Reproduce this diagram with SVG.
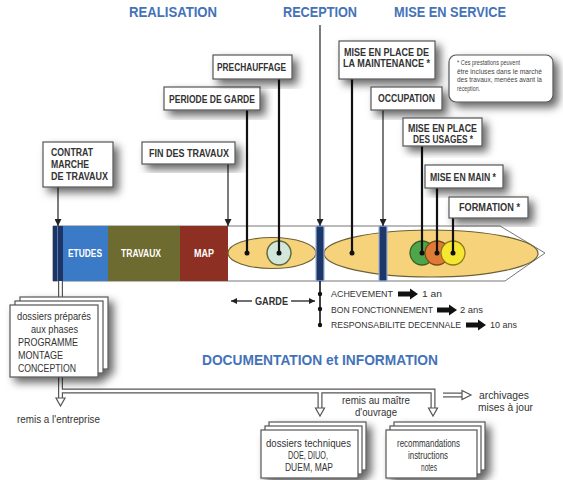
<svg xmlns="http://www.w3.org/2000/svg" width="563" height="480" viewBox="0 0 563 480">
<defs>
<style>
.hd{font-family:"Liberation Sans",Arial,sans-serif;font-weight:bold;font-size:14px;fill:#4472b9}
.bx{fill:#fff;stroke:#555;stroke-width:1.2}
.lb{font-family:"Liberation Sans",Arial,sans-serif;font-weight:bold;font-size:10.5px;fill:#333}
.tx{font-family:"Liberation Sans",Arial,sans-serif;font-size:11px;fill:#333}
.gt{font-family:"Liberation Sans",Arial,sans-serif;font-size:9.5px;fill:#333}
.wt{font-family:"Liberation Sans",Arial,sans-serif;font-weight:bold;font-size:10px;fill:#fff}
.nt{font-family:"Liberation Sans",Arial,sans-serif;font-size:6.5px;fill:#444}
.thin{stroke:#444;stroke-width:1.4;fill:none}
.thick{stroke:#111;stroke-width:2.2;fill:none}
.dot{fill:#111}
.strp{fill:#1d3868;stroke:#9ab0d8;stroke-width:1.2}
.ell{fill:#f6d37b;stroke:#6e6035;stroke-width:1.2}
.pipeo{stroke:#555;stroke-width:5;fill:none}
.pipei{stroke:#fff;stroke-width:2.6;fill:none}
.hollow{fill:#fff;stroke:#555;stroke-width:1.2}
</style>
<filter id="sh" x="-30%" y="-30%" width="170%" height="170%">
<feDropShadow dx="5" dy="5" stdDeviation="4" flood-color="#000" flood-opacity="0.6"/>
</filter>
<marker id="ah" viewBox="0 0 10 10" refX="10" refY="5" markerWidth="7" markerHeight="7" markerUnits="userSpaceOnUse" orient="auto">
<path d="M0,0 L10,5 L0,10 z" fill="#222"/>
</marker>
<marker id="ah2" viewBox="0 0 10 10" refX="10" refY="5" markerWidth="9" markerHeight="6" markerUnits="userSpaceOnUse" orient="auto">
<path d="M0,0 L10,5 L0,10 z" fill="#222"/>
</marker>
<path id="blk" d="M0,-2.5 H12 V-5.5 L20,0 L12,5.5 V2.5 H0 Z" fill="#111"/>
</defs>
<rect width="563" height="480" fill="#fff"/>

<!-- headings -->
<g id="headings">
<text class="hd" x="129" y="17" textLength="88" lengthAdjust="spacingAndGlyphs">REALISATION</text>
<text class="hd" x="283" y="17" textLength="74" lengthAdjust="spacingAndGlyphs">RECEPTION</text>
<text class="hd" x="394" y="17" textLength="112" lengthAdjust="spacingAndGlyphs">MISE EN SERVICE</text>
<text class="hd" x="202" y="365" textLength="236" lengthAdjust="spacingAndGlyphs">DOCUMENTATION et INFORMATION</text>
</g>

<!-- timeline bar -->
<g id="timeline">
<polygon points="53,226 500,226 545,253 505,281 53,281" fill="#fff" stroke="#777" stroke-width="1"/>
<rect x="53" y="226" width="10" height="55" fill="#1c3566"/>
<line x1="57.5" y1="226" x2="57.5" y2="281" stroke="#5d7cb3" stroke-width="1"/>
<rect x="63" y="226" width="45" height="55" fill="#3a7ac6"/>
<rect x="108" y="226" width="72" height="55" fill="#6d6b2f"/>
<rect x="180" y="226" width="48" height="55" fill="#8e2f24"/>
<text class="wt" x="68" y="257" textLength="34" lengthAdjust="spacingAndGlyphs">ETUDES</text>
<text class="wt" x="121" y="257" textLength="40" lengthAdjust="spacingAndGlyphs">TRAVAUX</text>
<text class="wt" x="194" y="257" textLength="20" lengthAdjust="spacingAndGlyphs">MAP</text>
<ellipse class="ell" cx="272" cy="253" rx="44" ry="15.5"/>
<circle cx="279" cy="253" r="12" fill="#d2e6dc" stroke="#5e6a3a" stroke-width="1.5"/>
<ellipse class="ell" cx="431" cy="253.5" rx="107" ry="23.5"/>
<circle cx="422" cy="253" r="12" fill="#4ea64b" stroke="#3d5f2a" stroke-width="1.3"/>
<circle cx="437" cy="253" r="12" fill="#e07b35" stroke="#7a4a1f" stroke-width="1.3"/>
<circle cx="453" cy="253" r="12" fill="#f4e631" stroke="#8a7a1a" stroke-width="1.3"/>
<rect class="strp" x="316" y="226" width="8" height="55"/>
<rect class="strp" x="379" y="226" width="8" height="55"/>
</g>

<!-- connectors -->
<g id="connectors">
<line class="thin" x1="58" y1="187" x2="58" y2="226" marker-end="url(#ah)"/>
<line class="thin" x1="228" y1="164" x2="228" y2="226" marker-end="url(#ah)"/>
<line class="thin" x1="320" y1="25" x2="320" y2="226" stroke="#777" marker-end="url(#ah)"/>
<line class="thin" x1="383" y1="110" x2="383" y2="226" marker-end="url(#ah)"/>
<line class="thick" x1="247" y1="110" x2="247" y2="253"/>
<line class="thick" x1="279" y1="79" x2="279" y2="253"/>
<line class="thick" x1="352" y1="79" x2="352" y2="253"/>
<line class="thick" x1="422" y1="146" x2="422" y2="253"/>
<line class="thick" x1="437" y1="188" x2="437" y2="253"/>
<line class="thick" x1="453" y1="218" x2="453" y2="253" stroke-width="3"/>
<circle class="dot" cx="247" cy="253" r="2.5"/>
<circle class="dot" cx="279" cy="253" r="2.5"/>
<circle class="dot" cx="352" cy="253" r="2.5"/>
<circle class="dot" cx="422" cy="253" r="2.5"/>
<circle class="dot" cx="437" cy="253" r="2.5"/>
<circle class="dot" cx="453" cy="253" r="2.5"/>
<!-- garantees -->
<line x1="320" y1="281" x2="320" y2="325" stroke="#111" stroke-width="1.6"/>
<circle class="dot" cx="320" cy="294" r="2.2"/>
<circle class="dot" cx="320" cy="309" r="2.2"/>
<circle class="dot" cx="320" cy="325" r="2.2"/>
<use href="#blk" x="398" y="294"/>
<use href="#blk" x="437" y="310"/>
<use href="#blk" x="466" y="325"/>
<line x1="252" y1="301" x2="231" y2="301" stroke="#222" stroke-width="1.3" marker-end="url(#ah2)"/>
<line x1="291" y1="301" x2="315" y2="301" stroke="#222" stroke-width="1.3" marker-end="url(#ah2)"/>
<!-- documentation pipes -->
<path class="pipeo" d="M60.5,281 V297"/>
<path class="pipei" d="M60.5,281 V297"/>
<path class="pipeo" d="M60.5,377 V399 M60.5,391 H433 V409 M320,391 V409"/>
<path class="pipei" d="M60.5,377 V399 M60.5,391 H433 V409 M320,391 V409"/>
<polygon class="hollow" points="56,398 65,398 60.5,406"/>
<polygon class="hollow" points="315.5,408 324.5,408 320,416"/>
<polygon class="hollow" points="428.5,408 437.5,408 433,416"/>
<path class="pipeo" d="M443,395 H462"/>
<path class="pipei" d="M443,395 H463"/>
<polygon class="hollow" points="462,390.5 471,395 462,399.5"/>
</g>

<!-- nodes -->
<g id="contrat">
<rect class="bx" x="43" y="142" width="70" height="45" filter="url(#sh)"/>
<text class="lb" x="51" y="156" textLength="42" lengthAdjust="spacingAndGlyphs">CONTRAT</text>
<text class="lb" x="51" y="168" textLength="38" lengthAdjust="spacingAndGlyphs">MARCHE</text>
<text class="lb" x="51" y="180" textLength="57" lengthAdjust="spacingAndGlyphs">DE TRAVAUX</text>
</g>
<g id="fin-travaux">
<rect class="bx" x="142" y="142" width="93" height="22" filter="url(#sh)"/>
<text class="lb" x="149" y="157" textLength="80" lengthAdjust="spacingAndGlyphs">FIN DES TRAVAUX</text>
</g>
<g id="periode-garde">
<rect class="bx" x="164" y="87" width="96" height="23" filter="url(#sh)"/>
<text class="lb" x="169" y="103" textLength="86" lengthAdjust="spacingAndGlyphs">PERIODE DE GARDE</text>
</g>
<g id="prechauffage">
<rect class="bx" x="213" y="55" width="79" height="24" filter="url(#sh)"/>
<text class="lb" x="217" y="71" textLength="69" lengthAdjust="spacingAndGlyphs">PRECHAUFFAGE</text>
</g>
<g id="maintenance">
<rect class="bx" x="339" y="41" width="96" height="38" filter="url(#sh)"/>
<text class="lb" x="344" y="56" textLength="85" lengthAdjust="spacingAndGlyphs">MISE EN PLACE DE</text>
<text class="lb" x="343" y="67" textLength="87" lengthAdjust="spacingAndGlyphs">LA MAINTENANCE *</text>
</g>
<g id="occupation">
<rect class="bx" x="371" y="87" width="71" height="23" filter="url(#sh)"/>
<text class="lb" x="378" y="102" textLength="57" lengthAdjust="spacingAndGlyphs">OCCUPATION</text>
</g>
<g id="note">
<rect class="bx" x="449" y="55" width="104" height="47" rx="7" filter="url(#sh)"/>
<text class="nt" x="457" y="65" textLength="63" lengthAdjust="spacingAndGlyphs">* Ces prestations peuvent</text>
<text class="nt" x="457" y="73.5" textLength="85" lengthAdjust="spacingAndGlyphs">être incluses dans le marché</text>
<text class="nt" x="457" y="82" textLength="85" lengthAdjust="spacingAndGlyphs">des travaux, menées avant la</text>
<text class="nt" x="457" y="90.5" textLength="23" lengthAdjust="spacingAndGlyphs">réception.</text>
</g>
<g id="usages">
<rect class="bx" x="403" y="118" width="79" height="28" filter="url(#sh)"/>
<text class="lb" x="408" y="132" textLength="69" lengthAdjust="spacingAndGlyphs">MISE EN PLACE</text>
<text class="lb" x="413" y="143" textLength="60" lengthAdjust="spacingAndGlyphs">DES USAGES *</text>
</g>
<g id="mise-en-main">
<rect class="bx" x="425" y="165" width="78" height="23" filter="url(#sh)"/>
<text class="lb" x="430" y="181" textLength="66" lengthAdjust="spacingAndGlyphs">MISE EN MAIN *</text>
</g>
<g id="formation">
<rect class="bx" x="449" y="197" width="79" height="21" filter="url(#sh)"/>
<text class="lb" x="459" y="211" textLength="61" lengthAdjust="spacingAndGlyphs">FORMATION *</text>
</g>

<g id="garde-label">
<text class="lb" x="255" y="305" textLength="33" lengthAdjust="spacingAndGlyphs">GARDE</text>
</g>
<g id="garanties">
<text class="gt" x="331" y="297" textLength="62" lengthAdjust="spacingAndGlyphs">ACHEVEMENT</text>
<text class="gt" x="422" y="297" textLength="20" lengthAdjust="spacingAndGlyphs">1 an</text>
<text class="gt" x="331" y="313" textLength="102" lengthAdjust="spacingAndGlyphs">BON FONCTIONNEMENT</text>
<text class="gt" x="460" y="313" textLength="23" lengthAdjust="spacingAndGlyphs">2 ans</text>
<text class="gt" x="331" y="328" textLength="130" lengthAdjust="spacingAndGlyphs">RESPONSABILITE DECENNALE</text>
<text class="gt" x="490" y="328" textLength="27" lengthAdjust="spacingAndGlyphs">10 ans</text>
</g>

<g id="dossiers-phases" filter="url(#sh)">
<rect class="bx" x="20" y="297" width="88" height="72"/>
<rect class="bx" x="15" y="301" width="88" height="72"/>
<rect class="bx" x="10" y="305" width="88" height="72"/>
</g>
<g id="dossiers-phases-text">
<text class="tx" x="17" y="320" textLength="74" lengthAdjust="spacingAndGlyphs">dossiers préparés</text>
<text class="tx" x="31" y="333" textLength="47" lengthAdjust="spacingAndGlyphs">aux phases</text>
<text class="tx" x="18" y="346" textLength="60" lengthAdjust="spacingAndGlyphs">PROGRAMME</text>
<text class="tx" x="18" y="359" textLength="45" lengthAdjust="spacingAndGlyphs">MONTAGE</text>
<text class="tx" x="18" y="372" textLength="58" lengthAdjust="spacingAndGlyphs">CONCEPTION</text>
</g>

<g id="labels-doc">
<text class="tx" x="17" y="423" textLength="83" lengthAdjust="spacingAndGlyphs">remis a l'entreprise</text>
<text class="tx" x="342" y="404" textLength="68" lengthAdjust="spacingAndGlyphs">remis au maître</text>
<text class="tx" x="355" y="416" textLength="42" lengthAdjust="spacingAndGlyphs">d'ouvrage</text>
<text class="tx" x="479" y="399" textLength="50" lengthAdjust="spacingAndGlyphs">archivages</text>
<text class="tx" x="478" y="411" textLength="55" lengthAdjust="spacingAndGlyphs">mises à jour</text>
</g>

<g id="dossiers-techniques">
<g filter="url(#sh)">
<rect class="bx" x="269" y="422" width="97" height="48"/>
<rect class="bx" x="265" y="426" width="97" height="48"/>
<rect class="bx" x="261" y="430" width="97" height="48"/>
</g>
<text class="tx" x="266" y="447" textLength="85" lengthAdjust="spacingAndGlyphs">dossiers techniques</text>
<text class="tx" x="288" y="459" textLength="40" lengthAdjust="spacingAndGlyphs">DOE, DIUO,</text>
<text class="tx" x="285" y="471" textLength="48" lengthAdjust="spacingAndGlyphs">DUEM, MAP</text>
</g>
<g id="recommandations">
<g filter="url(#sh)">
<rect class="bx" x="394" y="422" width="91" height="48"/>
<rect class="bx" x="390" y="426" width="91" height="48"/>
<rect class="bx" x="386" y="430" width="91" height="48"/>
</g>
<text class="tx" x="397" y="447" textLength="63" lengthAdjust="spacingAndGlyphs">recommandations</text>
<text class="tx" x="408" y="459" textLength="40" lengthAdjust="spacingAndGlyphs">instructions</text>
<text class="tx" x="421" y="471" textLength="16" lengthAdjust="spacingAndGlyphs">notes</text>
</g>
</svg>
